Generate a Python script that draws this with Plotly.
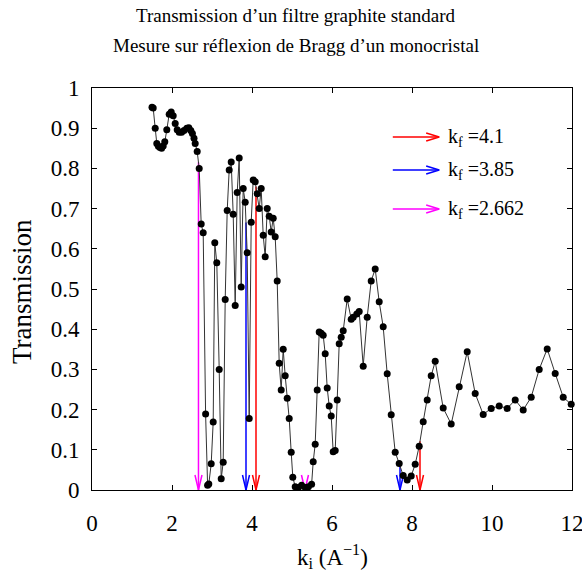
import numpy as np
import plotly.graph_objects as go

# Measured transmission of a standard graphite filter vs incident wavevector k_i (A^-1)
ki = [1.50, 1.53, 1.58, 1.62, 1.66, 1.70, 1.74, 1.78, 1.82, 1.87, 1.93, 1.98, 2.03, 2.08,
      2.13, 2.18, 2.24, 2.30, 2.37, 2.42, 2.47, 2.51, 2.55, 2.58, 2.63, 2.68, 2.73, 2.78,
      2.84, 2.89, 2.92, 2.98, 3.03, 3.07, 3.12, 3.18, 3.23, 3.28, 3.33, 3.38, 3.43, 3.48,
      3.53, 3.58, 3.63, 3.68, 3.73, 3.78, 3.83, 3.88, 3.93, 3.98, 4.03, 4.08, 4.13, 4.18,
      4.23, 4.28, 4.33, 4.38, 4.43, 4.48, 4.53, 4.58, 4.63, 4.68, 4.73, 4.78, 4.83, 4.88,
      4.93, 4.98, 5.02, 5.08, 5.16, 5.24, 5.33, 5.41, 5.49, 5.53, 5.58, 5.63, 5.68, 5.73,
      5.78, 5.83, 5.88, 5.93, 5.98, 6.03, 6.08, 6.13, 6.18, 6.23, 6.28, 6.38, 6.48, 6.53,
      6.62, 6.68, 6.78, 6.88, 6.98, 7.08, 7.18, 7.28, 7.38, 7.48, 7.58, 7.68, 7.78, 7.88,
      7.98, 8.08, 8.18, 8.28, 8.38, 8.48, 8.58, 8.78, 8.98, 9.18, 9.38, 9.58, 9.78, 9.98,
      10.18, 10.38, 10.58, 10.78, 10.98, 11.18, 11.38, 11.58, 11.78, 11.98]
transmission = [0.952, 0.950, 0.900, 0.862, 0.855, 0.852, 0.850, 0.856, 0.866, 0.896, 0.935,
                0.940, 0.931, 0.912, 0.896, 0.890, 0.890, 0.894, 0.900, 0.901, 0.894, 0.887,
                0.875, 0.862, 0.842, 0.800, 0.662, 0.640, 0.189, 0.012, 0.015, 0.065, 0.169,
                0.615, 0.565, 0.300, 0.028, 0.069, 0.474, 0.695, 0.796, 0.816, 0.686, 0.459,
                0.740, 0.826, 0.505, 0.750, 0.716, 0.590, 0.178, 0.666, 0.771, 0.767, 0.737,
                0.700, 0.750, 0.634, 0.580, 0.700, 0.681, 0.642, 0.676, 0.630, 0.520, 0.315,
                0.249, 0.350, 0.284, 0.228, 0.178, 0.094, 0.032, 0.008, 0.006, 0.012, 0.006,
                0.008, 0.014, 0.070, 0.114, 0.249, 0.393, 0.390, 0.385, 0.339, 0.254, 0.209,
                0.184, 0.095, 0.098, 0.224, 0.364, 0.380, 0.396, 0.475, 0.425, 0.430, 0.438,
                0.444, 0.308, 0.430, 0.520, 0.550, 0.468, 0.406, 0.289, 0.187, 0.094, 0.066,
                0.036, 0.025, 0.035, 0.064, 0.109, 0.170, 0.224, 0.284, 0.320, 0.204, 0.164,
                0.257, 0.344, 0.240, 0.188, 0.203, 0.209, 0.203, 0.224, 0.199, 0.231, 0.300,
                0.351, 0.290, 0.231, 0.213]

# Final wavevectors k_f marked on the curve (first order and second order 2*k_f)
kf_values = [4.1, 3.85, 2.662]
kf_labels = ["4.1", "3.85", "2.662"]
kf_colors = ["#ff0000", "#0000ff", "#ff00ff"]

x_ticks = [0, 2, 4, 6, 8, 10, 12]
y_ticks = [0, 0.1, 0.2, 0.3, 0.4, 0.5, 0.6, 0.7, 0.8, 0.9, 1]

title_lines = ["Transmission d\u2019un filtre graphite standard",
               "Mesure sur r\u00e9flexion de Bragg d\u2019un monocristal"]

W, H = 582, 580
M_L, M_R, M_T, M_B = 92, 10, 88, 90
X_RANGE = [0, 12]
Y_RANGE = [0, 1]
PLOT_W, PLOT_H = W - M_L - M_R, H - M_T - M_B
px_x = (X_RANGE[1] - X_RANGE[0]) / PLOT_W   # data units per pixel
px_y = (Y_RANGE[1] - Y_RANGE[0]) / PLOT_H

SERIF = "Liberation Serif, Times New Roman, serif"

def page_x(px):
    """Page pixel column -> paper x."""
    return (px - M_L) / PLOT_W

def page_y(py):
    """Page pixel row (from top) -> paper y."""
    return (H - M_B - py) / PLOT_H

fig = go.Figure()

def down_arrow(x, y_top, color):
    """Vertical arrow from the curve down to the axis, open V head."""
    hx, hy = 3.5 * px_x, 15 * px_y
    xs = [x, x, None, x - hx, x, x + hx]
    ys = [y_top, 0, None, hy, 0, hy]
    fig.add_trace(go.Scatter(x=xs, y=ys, mode="lines", line=dict(color=color, width=1.5),
                             hoverinfo="skip", showlegend=False, cliponaxis=False))

def right_arrow(x0, x1, y, color):
    """Horizontal key arrow, open V head."""
    hx, hy = 13 * px_x, 4 * px_y
    xs = [x0, x1, None, x1 - hx, x1, x1 - hx]
    ys = [y, y, None, y + hy, y, y - hy]
    fig.add_trace(go.Scatter(x=xs, y=ys, mode="lines", line=dict(color=color, width=1.5),
                             hoverinfo="skip", showlegend=False, cliponaxis=False))

for kf, col in zip(kf_values, kf_colors):
    down_arrow(kf, float(np.interp(kf, ki, transmission)), col)
    down_arrow(2 * kf, float(np.interp(2 * kf, ki, transmission)), col)

fig.add_trace(go.Scatter(
    x=ki, y=transmission, mode="lines+markers",
    line=dict(color="#333333", width=1),
    marker=dict(color="black", size=7),
    showlegend=False, cliponaxis=False))

# key: arrow + label for each k_f
key_x0 = 7.52
key_x1 = 8.68
key_y = [0.878, 0.796, 0.699]
for kf_txt, col, yk in zip(kf_labels, kf_colors, key_y):
    right_arrow(key_x0, key_x1, yk, col)
    fig.add_annotation(x=8.86, y=yk, xref="x", yref="y", xanchor="left", yanchor="middle",
                       text="k<sub>f</sub> =" + kf_txt, showarrow=False,
                       font=dict(family=SERIF, size=20, color="black"))

# two-line heading, centred on the page
for i, line in enumerate(title_lines):
    fig.add_annotation(x=page_x(296), y=page_y(16 + 30 * i), xref="paper", yref="paper",
                       xanchor="center", yanchor="middle", text=line, showarrow=False,
                       font=dict(family=SERIF, size=19, color="black"))

# axis titles
fig.add_annotation(x=0.5, y=page_y(556), xref="paper", yref="paper",
                   xanchor="center", yanchor="middle", showarrow=False,
                   text="k<sub>i</sub> (A<sup>\u22121</sup>)",
                   font=dict(family=SERIF, size=23, color="black"))
fig.add_annotation(x=page_x(22), y=page_y(292), xref="paper", yref="paper",
                   xanchor="center", yanchor="middle", showarrow=False, textangle=-90,
                   text="Transmission",
                   font=dict(family=SERIF, size=27, color="black"))

fig.update_layout(
    width=W, height=H, autosize=False,
    margin=dict(l=M_L, r=M_R, t=M_T, b=M_B, autoexpand=False),
    paper_bgcolor="white", plot_bgcolor="white",
    font=dict(family=SERIF, color="black"),
)
fig.update_xaxes(range=X_RANGE, tickvals=x_ticks, ticks="inside", ticklen=5,
                 showline=True, mirror="ticks", linecolor="black", linewidth=1,
                 tickcolor="black", showgrid=False, zeroline=False, automargin=False,
                 ticklabeloverflow="allow", ticklabelstandoff=12,
                 tickfont=dict(family=SERIF, size=23, color="black"))
fig.update_yaxes(range=Y_RANGE, tickvals=y_ticks, ticks="inside", ticklen=5,
                 showline=True, mirror="ticks", linecolor="black", linewidth=1,
                 tickcolor="black", showgrid=False, zeroline=False, automargin=False,
                 ticklabeloverflow="allow", ticklabelstandoff=7,
                 tickfont=dict(family=SERIF, size=23, color="black"))

fig.write_html("out.html")
